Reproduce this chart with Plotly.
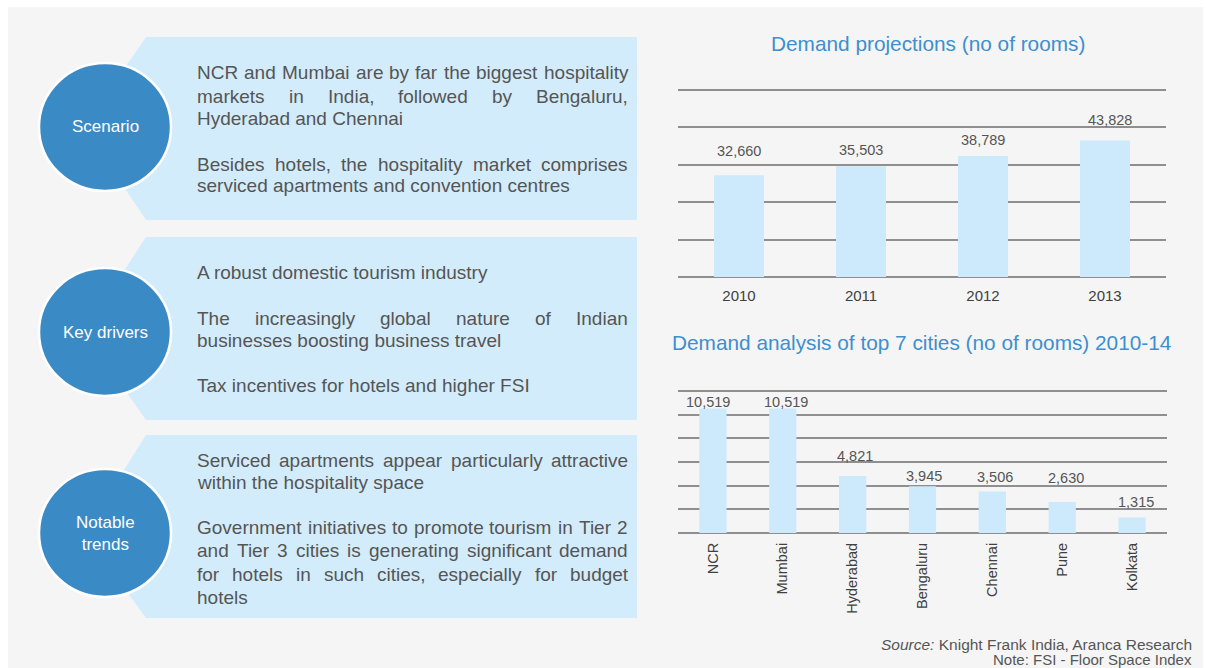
import plotly.graph_objects as go

# ---------------- data ----------------
proj_years = ["2010", "2011", "2012", "2013"]
proj_rooms = [32660, 35503, 38789, 43828]

cities = ["NCR", "Mumbai", "Hyderabad", "Bengaluru", "Chennai", "Pune", "Kolkata"]
city_rooms = [10519, 10519, 4821, 3945, 3506, 2630, 1315]

circle_labels = ["Scenario", "Key drivers", "Notable<br>trends"]
panel_texts = [
    [("NCR and Mumbai are by far the biggest hospitality", True),
     ("markets in India, followed by Bengaluru,", True),
     ("Hyderabad and Chennai", False),
     ("Besides hotels, the hospitality market comprises", True),
     ("serviced apartments and convention centres", False)],
    [("A robust domestic tourism industry", False),
     ("The increasingly global nature of Indian", True),
     ("businesses boosting business travel", False),
     ("Tax incentives for hotels and higher FSI", False)],
    [("Serviced apartments appear particularly attractive", True),
     ("within the hospitality space", False),
     ("Government initiatives to promote tourism in Tier 2", True),
     ("and Tier 3 cities is generating significant demand", True),
     ("for hotels in such cities, especially for budget", True),
     ("hotels", False)],
]

title1 = "Demand projections (no of rooms)"
title2 = "Demand analysis of top 7 cities (no of rooms) 2010-14"
source_txt = "<i>Source:</i> Knight Frank India, Aranca Research"
note_txt = "Note: FSI - Floor Space Index"

# ---------------- layout helpers (pixels -> paper) ----------------
W, H = 1206, 668
def px(x): return x / W
def py(y): return 1 - y / H

FONT = "Arial, Liberation Sans, sans-serif"
TXT = "#555555"
BLUE_T = "#3d8fcf"
PANEL = "#d3ecfb"
CIRCLE = "#3a8ac5"
BAR = "#cde9fc"
GRID = "#8f8f8f"

AW = {' ': 278, ',': 278, '.': 278, '-': 333, '(': 333, ')': 333,
      'A': 667, 'B': 667, 'C': 722, 'D': 722, 'E': 667, 'F': 611, 'G': 778,
      'H': 722, 'I': 278, 'K': 667, 'M': 833, 'N': 722, 'R': 722, 'S': 667,
      'T': 611, 'a': 556, 'b': 556, 'c': 500, 'd': 556, 'e': 556, 'f': 278,
      'g': 556, 'h': 556, 'i': 222, 'j': 222, 'k': 500, 'l': 222, 'm': 833,
      'n': 556, 'o': 556, 'p': 556, 'q': 556, 'r': 333, 's': 500, 't': 278,
      'u': 556, 'v': 500, 'w': 722, 'x': 500, 'y': 500, 'z': 500}
def tw(s, size):
    return sum(AW.get(c, 556) for c in s) / 1000 * size

fig = go.Figure()
shapes, annos = [], []

# background panel
shapes.append(dict(type="rect", xref="paper", yref="paper", layer="below",
                   x0=px(8), x1=px(1203), y0=py(668), y1=py(7),
                   fillcolor="#f5f5f5", line=dict(width=0)))

panel_geo = [(37, 220, 127), (237, 420, 332), (435, 618, 533)]
line_ys = [[73, 96, 118, 164, 186], [272, 318, 340, 385], [460, 483, 527, 550, 574, 597]]
X0, X1, FS = 197, 628, 19

for (top, bot, cy), lab, lines, ys in zip(panel_geo, circle_labels, panel_texts, line_ys):
    path = (f"M {px(146)},{py(top)} L {px(637)},{py(top)} L {px(637)},{py(bot)} "
            f"L {px(146)},{py(bot)} L {px(84)},{py(cy)} Z")
    shapes.append(dict(type="path", xref="paper", yref="paper", layer="below",
                       path=path, fillcolor=PANEL, line=dict(width=0)))
    shapes.append(dict(type="circle", xref="paper", yref="paper", layer="below",
                       x0=px(105 - 66), x1=px(105 + 66), y0=py(cy + 64), y1=py(cy - 64),
                       fillcolor=CIRCLE, line=dict(color="white", width=2.5)))
    annos.append(dict(xref="paper", yref="paper", x=px(105), y=py(cy), text=lab,
                      showarrow=False, xanchor="center", yanchor="middle",
                      font=dict(family=FONT, size=17, color="white")))
    for (txt, just), yy in zip(lines, ys):
        if not just:
            annos.append(dict(xref="paper", yref="paper", x=px(X0 - 2), y=py(yy), text=txt,
                              showarrow=False, xanchor="left", yanchor="middle",
                              font=dict(family=FONT, size=FS, color=TXT)))
        else:
            words = txt.split()
            wsum = sum(tw(w, FS) for w in words)
            gap = (X1 - X0 - wsum) / (len(words) - 1)
            xc = X0
            for w in words:
                annos.append(dict(xref="paper", yref="paper", x=px(xc - 2), y=py(yy), text=w,
                                  showarrow=False, xanchor="left", yanchor="middle",
                                  font=dict(family=FONT, size=FS, color=TXT)))
                xc += tw(w, FS) + gap

# ---------------- charts ----------------
fig.add_trace(go.Bar(x=proj_years, y=proj_rooms, marker=dict(color=BAR, line=dict(width=0)),
                     width=0.41, xaxis="x", yaxis="y", hoverinfo="skip"))
fig.add_trace(go.Bar(x=cities, y=city_rooms, marker=dict(color=BAR, line=dict(width=0)),
                     width=0.39, xaxis="x2", yaxis="y2", hoverinfo="skip"))

proj_label_dy = [24, 16, 16, 20]
proj_label_dx = [0, 0, 0, 5]
for i, (v, dy, dx) in enumerate(zip(proj_rooms, proj_label_dy, proj_label_dx)):
    annos.append(dict(xref="x", yref="y", x=i, y=v, text=f"{v:,}", showarrow=False,
                      yanchor="middle", xanchor="center", yshift=dy, xshift=dx,
                      font=dict(family=FONT, size=14.5, color=TXT)))

city_label_dy = [7, 7, 20, 10, 15, 24, 15]
city_label_dx = [-5, 3, 2, 1, 3, 4, 4]
for i, (v, dy, dx) in enumerate(zip(city_rooms, city_label_dy, city_label_dx)):
    annos.append(dict(xref="x2", yref="y2", x=i, y=v, text=f"{v:,}", showarrow=False,
                      yanchor="middle", xanchor="center", yshift=dy, xshift=dx,
                      font=dict(family=FONT, size=14.5, color=TXT)))

annos.append(dict(xref="paper", yref="paper", x=px(928), y=py(44), text=title1, showarrow=False,
                  xanchor="center", yanchor="middle", font=dict(family=FONT, size=20.8, color=BLUE_T)))
annos.append(dict(xref="paper", yref="paper", x=px(921), y=py(342), text=title2, showarrow=False,
                  xanchor="center", yanchor="middle", font=dict(family=FONT, size=20.8, color=BLUE_T)))
annos.append(dict(xref="paper", yref="paper", x=px(1194), y=py(644), text=source_txt, showarrow=False,
                  xanchor="right", yanchor="middle", font=dict(family=FONT, size=15.5, color=TXT)))
annos.append(dict(xref="paper", yref="paper", x=px(1194), y=py(659), text=note_txt, showarrow=False,
                  xanchor="right", yanchor="middle", font=dict(family=FONT, size=15, color=TXT)))

common_y = dict(showticklabels=False, showgrid=True, gridcolor=GRID, gridwidth=1.6,
                zeroline=True, zerolinecolor=GRID, zerolinewidth=1.6, showline=False,
                ticks="", fixedrange=True)
common_x = dict(type="category", showgrid=False, zeroline=False, showline=False, ticks="",
                fixedrange=True)

# y-axis ranges padded slightly so the top gridline is drawn
r1_top, base1, top1 = 61000, 277, 90      # 60000 sits at y=90 px
r2_top, base2, top2 = 12300, 533, 391     # 12000 sits at y=391 px
dom1_top = base1 - (base1 - top1) * r1_top / 60000
dom2_top = base2 - (base2 - top2) * r2_top / 12000

fig.update_layout(
    width=W, height=H, margin=dict(l=0, r=0, t=0, b=0),
    paper_bgcolor="white", plot_bgcolor="rgba(0,0,0,0)", showlegend=False,
    xaxis=dict(domain=[px(678), px(1166)], anchor="y", range=[-0.5, len(proj_years) - 0.5],
               tickfont=dict(family=FONT, size=15, color="#404040"), ticklabelstandoff=8, **common_x),
    yaxis=dict(domain=[py(base1), py(dom1_top)], anchor="x", range=[0, r1_top], dtick=12000, tick0=0,
               **common_y),
    xaxis2=dict(domain=[px(678), px(1167)], anchor="y2", tickangle=-90, range=[-0.5, len(cities) - 0.5],
                tickfont=dict(family=FONT, size=14.5, color="#404040"), ticklabelstandoff=6, **common_x),
    yaxis2=dict(domain=[py(base2), py(dom2_top)], anchor="x2", range=[0, r2_top], dtick=2000, tick0=0,
                **common_y),
    shapes=shapes, annotations=annos,
)

fig.write_html("out.html", config={"displayModeBar": False},
               post_script="document.body.style.margin='0';document.body.style.overflow='hidden';")
